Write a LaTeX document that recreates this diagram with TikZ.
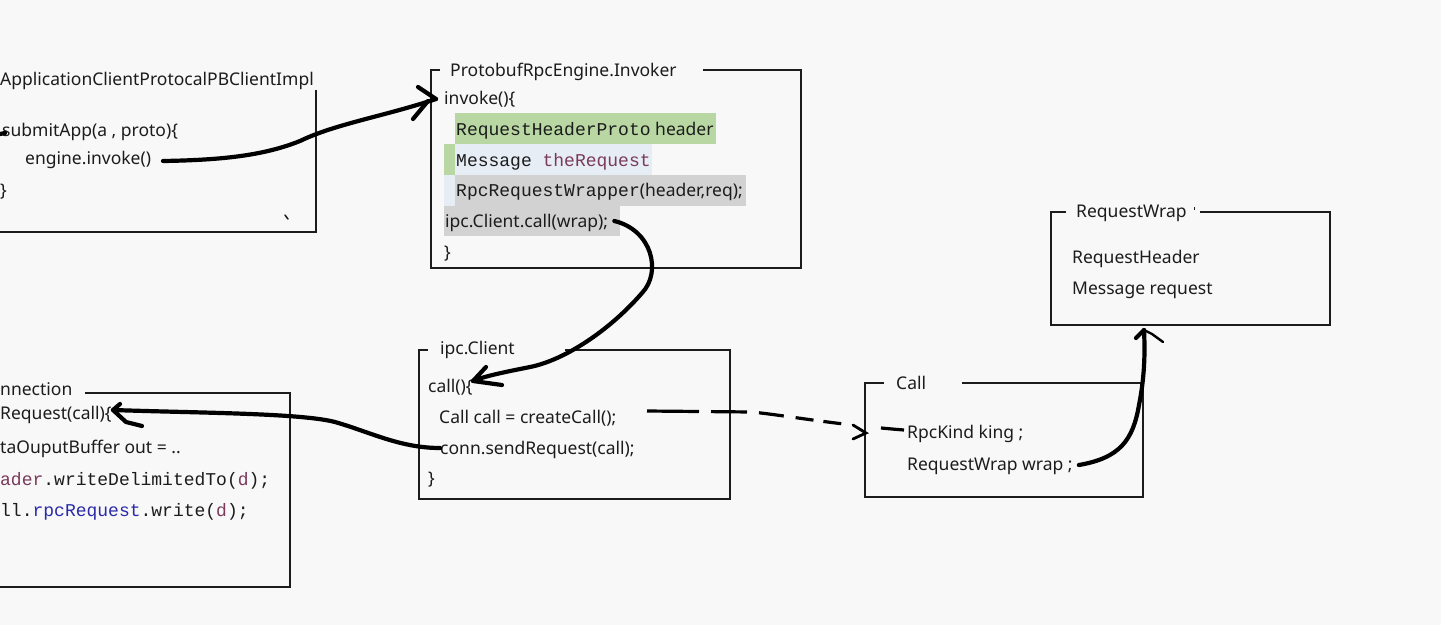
\documentclass[tikz,border=0pt]{standalone}
\usepackage{fontspec}
\setmainfont{Noto Sans}
\setmonofont{Liberation Mono}
\definecolor{bg}{HTML}{F8F8F8}
\definecolor{ink}{HTML}{1C1C1C}
\definecolor{hlgreen}{HTML}{B8D7A2}
\definecolor{hlblue}{HTML}{E6EDF5}
\definecolor{hlgray}{HTML}{D2D2D2}
\definecolor{purp}{HTML}{7A3A5C}
\definecolor{codeblue}{HTML}{2A2AA8}
\newcommand{\cd}[1]{{\fontsize{18}{20}\ttfamily #1}}
\tikzset{
  boxline/.style={draw=ink, line width=1.3pt},
  txt/.style={anchor=west, inner sep=0pt, text=ink, font=\fontsize{17.5}{20}\selectfont, text height=12pt, text depth=0pt},
  code/.style={txt, font=\fontsize{18}{20}\ttfamily},
  hand/.style={draw=black, line width=4.2pt, line cap=round, line join=round},
  dhand/.style={draw=black, line width=3.2pt, line cap=butt,
    dash pattern=on 52pt off 12pt on 36pt off 12pt on 25pt off 12pt on 18pt off 10pt on 18pt off 40pt},
}
\begin{document}
\begin{tikzpicture}[x=1pt,y=-1pt]
\fill[bg] (0,0) rectangle (1441,625);
\useasboundingbox (0,0) rectangle (1441,625);

% ---------- boxes ----------
% ApplicationClientProtocalPBClientImpl
\draw[boxline] (316,90) -- (316,232) -- (-5,232);
% ProtobufRpcEngine.Invoker
\draw[boxline] (440,70) -- (431,70) -- (431,268) -- (801,268) -- (801,70) -- (703,70);
% ipc.Client
\draw[boxline] (428,350) -- (419,350) -- (419,499) -- (730,499) -- (730,350) -- (565,350);
% Connection
\draw[boxline] (85,393) -- (290,393) -- (290,587) -- (-5,587);
% Call
\draw[boxline] (884,383) -- (865,383) -- (865,497) -- (1143,497) -- (1143,383) -- (962,383);
% RequestWrap
\draw[boxline] (1066,212) -- (1051,212) -- (1051,325) -- (1330,325) -- (1330,212) -- (1200,212);

% ---------- highlights ----------
\fill[hlgreen] (455,113) rectangle (716,144);
\fill[hlgreen] (444,144) rectangle (455,175);
\fill[hlblue]  (455,144) rectangle (652,175);
\fill[hlblue]  (444,175) rectangle (455,206);
\fill[hlgray]  (455,175) rectangle (746,206);
\fill[hlgray]  (444,206) rectangle (620,236);

% ---------- App box text ----------
\node[txt] (apptitle) at (0,79) {ApplicationClientProtocalPBClientImpl};
\node[txt] (submit) at (2,130) {submitApp(a , proto)\{};
\node[txt] (engine) at (25,158) {engine.invoke()};
\node[txt] (appclose) at (0,190) {\}};
\draw[ink, line width=1.5pt, line cap=round] (285,215) -- (288,219);

% ---------- Invoker text ----------
\node[txt] (invtitle) at (450,70) {ProtobufRpcEngine.Invoker};
\node[txt] (invoke) at (444,98) {invoke()\{};
\node[txt] (hdr) at (456,129) {\cd{RequestHeaderProto} header};
\node[code] (msg) at (456,160) {Message \textcolor{purp}{theRequest}};
\node[txt] (wrapper) at (456,190) {\cd{RpcRequestWrapper}(header,req);};
\node[txt] (wrapcall) at (445,221) {ipc.Client.call(wrap);};
\node[txt] (invclose) at (444,252) {\}};

% ---------- ipc.Client text ----------
\node[txt] (cltitle) at (440,348) {ipc.Client};
\node[txt] (callfn) at (428,386) {call()\{};
\node[txt] (createcall) at (439,417) {Call call = createCall();};
\node[txt] (conn) at (440,448) {conn.sendRequest(call);};
\node[txt] (clclose) at (428,478) {\}};

% ---------- Connection text (cut at the left edge) ----------
\node[txt] (contitle) at (0,389) {nnection};
\node[txt] (sendreq) at (0,413) {Request(call)\{};
\node[txt] (dob) at (0,447) {taOuputBuffer out = ..};
\node[code] (hdrw) at (0,479) {\textcolor{purp}{ader}.writeDelimitedTo(\textcolor{purp}{d});};
\node[code] (rpcw) at (0,510) {ll.\textcolor{codeblue}{rpcRequest}.write(\textcolor{purp}{d});};

% ---------- Call text ----------
\node[txt] (calltitle) at (896,383) {Call};
\node[txt] (kind) at (907,432) {RpcKind king ;};
\node[txt] (wrapfield) at (907,464) {RequestWrap wrap ;};

% ---------- RequestWrap text ----------
\node[txt] (rwtitle) at (1076,211) {RequestWrap};
\draw[ink, line width=0.8pt] (1194,207) -- (1194,210);
\node[txt] (rwhdr) at (1072,257) {RequestHeader};
\node[txt] (rwmsg) at (1072,288) {Message request};

% ---------- connectors ----------
% engine.invoke() -> invoke()
\coordinate (tipA) at ([xshift=-8pt,yshift=-1pt]invoke.west);
\draw[hand] (163,161) .. controls (225,160) and (265,155) .. (300,141)
  .. controls (335,124) and (385,116) .. (tipA);
\draw[hand] (418,87) -- (tipA);
\draw[hand] (413,119) -- (428,101);
% small stub at submitApp
\draw[hand] (0,134) -- (5,133);

% ipc.Client.call(wrap) -> call()
\coordinate (tipB) at (473,381);
\draw[hand] ([xshift=6pt]wrapcall.east) .. controls (652,230) and (662,272) .. (642,293)
  .. controls (610,330) and (565,360) .. (530,367) .. controls (505,372) and (485,376) .. (tipB);
\draw[hand] (486,367) -- (tipB) -- (502,385);

% conn.sendRequest -> Request(call){
\coordinate (tipC) at (113,410);
\draw[hand] (conn.west) .. controls (400,448) and (370,432) .. (335,422)
  .. controls (300,413) and (200,413) .. (tipC);
\draw[hand] (120,404) -- (tipC) -- (126,422) -- (142,426);

% createCall -> Call (dashed)
\coordinate (tipD) at ([xshift=-3pt,yshift=2pt]kind.west);
\draw[dhand] (647,411) -- (752,412) .. controls (790,416) and (830,424) .. (tipD);
\draw[black, line width=2.8pt, line cap=round] (853,425) -- (866,433) -- (853,439);
\draw[black, line width=2.2pt, line cap=round] (858,428) -- (866,433);

% RequestWrap wrap ; -> RequestWrap box
\coordinate (tipE) at (1144,330);
\draw[hand] ([xshift=6pt,yshift=-1pt]wrapfield.east) .. controls (1120,458) and (1133,440) .. (1139,405)
  .. controls (1145,375) and (1145,350) .. (tipE);
\draw[hand] (1136,338) -- (tipE);
\draw[black, line width=2.4pt, line cap=round] (tipE) -- (1152,334) -- (1163,342);
\end{tikzpicture}
\end{document}
